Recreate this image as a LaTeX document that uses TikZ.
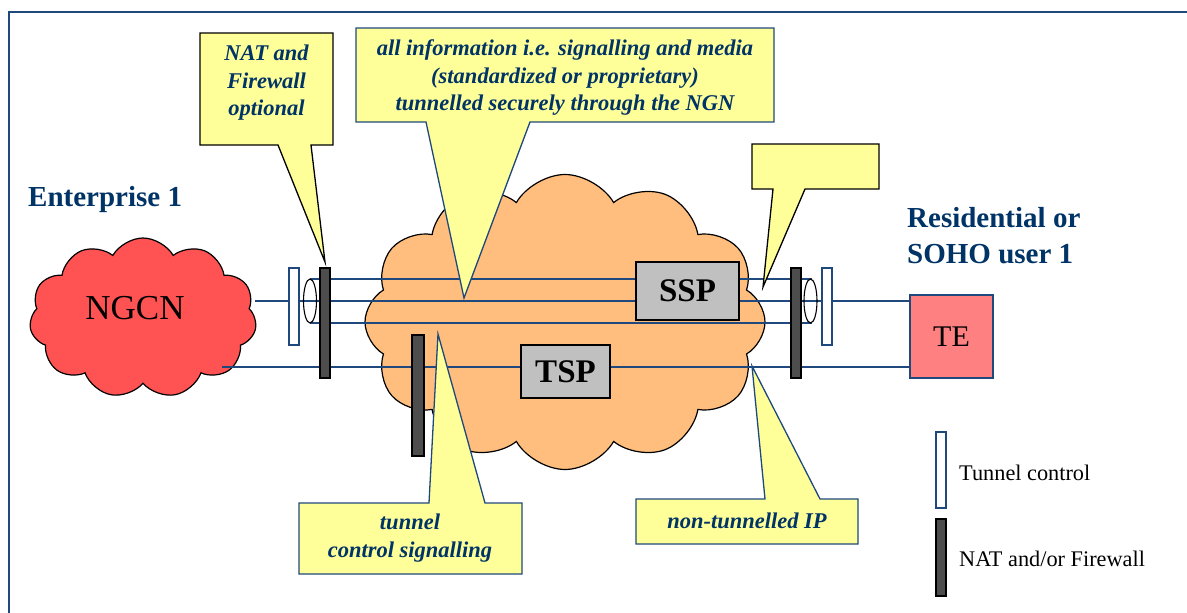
\documentclass[tikz,border=0pt]{standalone}
\usepackage{fontspec}
\setmainfont{Liberation Serif}
\usetikzlibrary{shapes.symbols}
\definecolor{navy}{RGB}{0,51,102}
\definecolor{wire}{RGB}{31,73,125}
\definecolor{ngnfill}{RGB}{255,190,125}
\definecolor{ngcnfill}{RGB}{255,82,82}
\definecolor{tefill}{RGB}{255,128,128}
\definecolor{notefill}{RGB}{255,255,153}
\definecolor{boxgray}{RGB}{192,192,192}
\definecolor{bargray}{RGB}{77,77,77}
\tikzset{
  frameline/.style={draw=wire, line width=2pt},
  wireline/.style={draw=wire, line width=1.3pt},
  netcloud/.style={cloud, cloud ignores aspect, draw=black, line width=1.2pt, inner sep=0pt},
  spbox/.style={draw=black, line width=1.6pt, fill=boxgray, inner sep=0pt,
    font=\bfseries\fontsize{33}{36}\selectfont},
  tunnelbar/.style={draw=wire, line width=1.3pt, fill=white},
  natbar/.style={draw=black, line width=1.3pt, fill=bargray},
  note/.style={fill=notefill, line width=1.3pt, line join=miter},
  notetext/.style={align=center, text=navy, inner sep=0pt,
    font=\bfseries\itshape\fontsize{22.5}{27.5}\selectfont},
  sitelabel/.style={text=navy, inner sep=0pt, align=left,
    font=\bfseries\fontsize{29}{36}\selectfont},
  legendtext/.style={anchor=west, inner sep=0pt, font=\fontsize{22.3}{26}\selectfont}
}
\begin{document}
\begin{tikzpicture}[x=1pt, y=-1pt]
\useasboundingbox (0,0) rectangle (1187,613);
\fill[white] (0,0) rectangle (1187,613);

% outer frame
\draw[frameline] (1190,12) -- (9,12) -- (9,616);

% networks
\node[netcloud, fill=ngcnfill, cloud puffs=11, cloud puff arc=120,
      minimum width=227pt, minimum height=160pt] (ngcn) at (143,318) {};
\node[font=\fontsize{35}{40}\selectfont, inner sep=0pt] (ngcnlabel) at (135,308) {NGCN};
\node[netcloud, fill=ngnfill, cloud puffs=12, cloud puff arc=120,
      minimum width=400pt, minimum height=295pt] (ngn) at (565,322) {};

% site labels
\node[sitelabel, anchor=west] (ent) at (28,200) {Enterprise 1};
\node[sitelabel, anchor=west] (res) at (907,236) {Residential or\\SOHO user 1};

% terminal equipment
\node[draw=wire, line width=1.6pt, fill=tefill, minimum width=83pt, minimum height=83pt,
      font=\fontsize{30}{34}\selectfont, inner sep=0pt] (te) at (951.5,336.5) {TE};

% line end points
\coordinate (tunL) at (310,0);
\coordinate (tunR) at (812,0);
\coordinate (midL) at (255,301);
\coordinate (lowL) at (222,367);

% tunnel and IP lines
\draw[wireline] (tunL |- 0,279) -- (tunR |- 0,279);
\draw[wireline] (tunL |- 0,323) -- (tunR |- 0,323);
\draw[wireline] (midL) -- (midL -| te.west);
\draw[wireline] (lowL) -- (lowL -| te.west);

% tunnel end caps
\draw[black, line width=1.1pt] (310,301) ellipse [x radius=6.5pt, y radius=22pt];
\draw[black, line width=1.1pt] (810.5,301) ellipse [x radius=6.5pt, y radius=22pt];

% service platforms
\node[spbox, minimum width=103pt, minimum height=58pt] (ssp) at (687.5,291) {SSP};
\node[spbox, minimum width=89pt, minimum height=53pt] (tsp) at (565.5,371.5) {TSP};

% tunnel control points
\draw[tunnelbar] (289,268) rectangle (299,345);
\draw[tunnelbar] (822,268) rectangle (832,345);

% NAT / firewall points
\draw[natbar] (320,268) rectangle (330,378);
\draw[natbar] (791,268) rectangle (801,378);
\draw[natbar] (412,335) rectangle (424,456);

% callouts
\draw[note, draw=black] (200,33) -- (333,33) -- (333,145) -- (311,145) -- (325,262)
  -- (278,145) -- (200,145) -- cycle;
\node[notetext] (n1) at (266.5,83) {NAT and\\Firewall\\optional};

\draw[note, draw=wire] (356,28) -- (774,28) -- (774,122) -- (530,122) -- (464,298)
  -- (426,122) -- (356,122) -- cycle;
\node[notetext] (n2) at (565,78) {all information i.e. signalling and media\\(standardized or proprietary)\\tunnelled securely through the NGN};

\draw[note, draw=black] (752,144) -- (879,144) -- (879,189) -- (805,189) -- (763,287)
  -- (773,189) -- (752,189) -- cycle;

\draw[note, draw=wire] (299,503) -- (429,503) -- (438,334) -- (485,503) -- (522,503)
  -- (522,574) -- (299,574) -- cycle;
\node[notetext] (n3) at (410,538) {tunnel\\control signalling};

\draw[note, draw=wire] (636,499) -- (765,499) -- (752,366) -- (820,499) -- (858,499)
  -- (858,544) -- (636,544) -- cycle;
\node[notetext] (n4) at (747,521) {non-tunnelled IP};

% legend
\draw[tunnelbar] (936,432) rectangle (946,508);
\node[legendtext] (lg1) at (959,473) {Tunnel control};
\draw[natbar] (936,519) rectangle (946,596);
\node[legendtext] (lg2) at (959,559) {NAT and/or Firewall};
\end{tikzpicture}
\end{document}
